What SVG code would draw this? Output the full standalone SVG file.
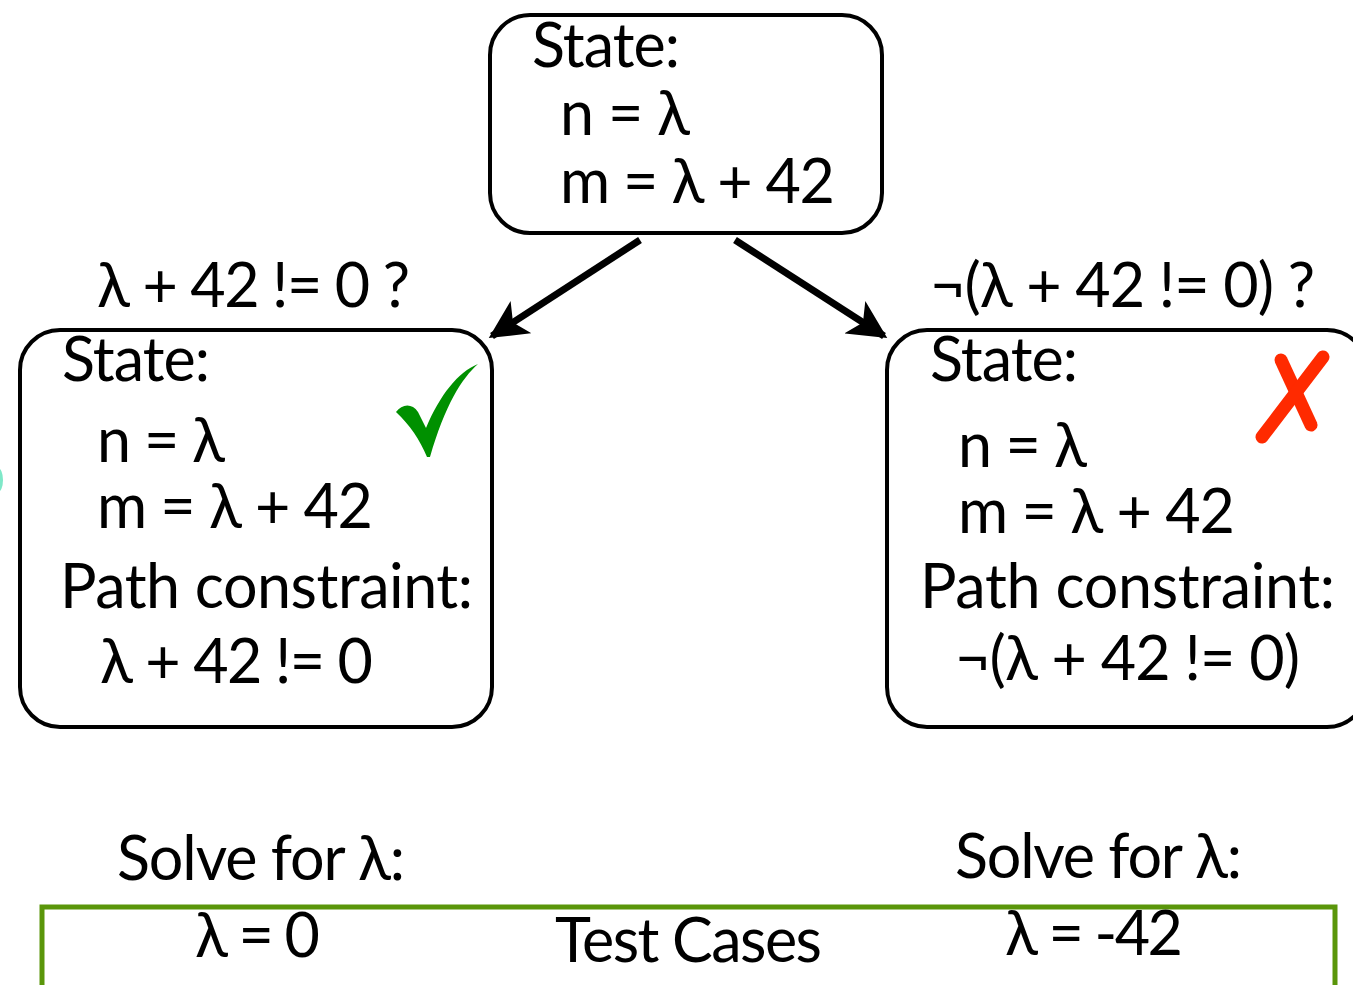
<svg xmlns="http://www.w3.org/2000/svg" width="1353" height="985" viewBox="0 0 1353 985">
  <style>
    .box { fill: #ffffff; stroke: #000000; stroke-width: 4; }
    .t { font-family: Lato, "Open Sans", "Liberation Sans", sans-serif; font-size: 61px; fill: #000000; }
    .edge { stroke: #000000; stroke-width: 7; fill: none; }
  </style>
  <defs>
    <marker id="arrow" viewBox="0 0 10 10" refX="9" refY="5" markerWidth="5.5" markerHeight="5.5" markerUnits="strokeWidth" orient="auto">
      <path d="M0,0 L10,5 L0,10 L2.5,5 Z" fill="#000000"/>
    </marker>
  </defs>
  <rect width="1353" height="985" fill="#ffffff"/>

  <!-- stray mark at left edge -->
  <ellipse cx="-2" cy="480" rx="5" ry="12" fill="#7fe8c8"/>

  <!-- connectors -->
  <g id="connectors">
    <line class="edge" x1="640" y1="240" x2="492" y2="336" marker-end="url(#arrow)"/>
    <line class="edge" x1="735" y1="240" x2="884" y2="336" marker-end="url(#arrow)"/>
    <text class="t" x="97" y="307" textLength="313" lengthAdjust="spacing">λ + 42 != 0 ?</text>
    <text class="t" x="930" y="307" textLength="385" lengthAdjust="spacing">¬(λ + 42 != 0) ?</text>
  </g>

  <!-- initial state -->
  <g id="root">
    <rect class="box" x="490" y="15" width="392" height="218" rx="40"/>
    <text class="t" x="532" y="67" textLength="148" lengthAdjust="spacing">State:</text>
    <text class="t" x="560" y="135" textLength="130" lengthAdjust="spacing">n = λ</text>
    <text class="t" x="560" y="203" textLength="275" lengthAdjust="spacing">m = λ + 42</text>
  </g>

  <!-- true branch -->
  <g id="true-branch">
    <rect class="box" x="20" y="330" width="472" height="397" rx="40"/>
    <text class="t" x="62" y="381" textLength="148" lengthAdjust="spacing">State:</text>
    <text class="t" x="97" y="462" textLength="128" lengthAdjust="spacing">n = λ</text>
    <text class="t" x="97" y="528" textLength="276" lengthAdjust="spacing">m = λ + 42</text>
    <text class="t" x="60" y="608" textLength="413" lengthAdjust="spacing">Path constraint:</text>
    <text class="t" x="100" y="683" textLength="273" lengthAdjust="spacing">λ + 42 != 0</text>
    <path d="M396,412 C402,404 412,403 418,412 L426,428 C440,395 458,372 478,364 C462,378 445,405 430,457 L427,457 C420,440 410,425 396,412 Z" fill="#009000"/>
  </g>

  <!-- false branch -->
  <g id="false-branch">
    <rect class="box" x="887" y="330" width="480" height="397" rx="40"/>
    <text class="t" x="930" y="381" textLength="148" lengthAdjust="spacing">State:</text>
    <text class="t" x="958" y="467" textLength="129" lengthAdjust="spacing">n = λ</text>
    <text class="t" x="958" y="533" textLength="277" lengthAdjust="spacing">m = λ + 42</text>
    <text class="t" x="920" y="608" textLength="415" lengthAdjust="spacing">Path constraint:</text>
    <text class="t" x="955" y="680" textLength="345" lengthAdjust="spacing">¬(λ + 42 != 0)</text>
    <g stroke="#ff2a00" stroke-width="13" stroke-linecap="round">
      <line x1="1281" y1="360" x2="1311" y2="425"/>
      <line x1="1323" y1="357" x2="1262" y2="437"/>
    </g>
  </g>

  <!-- solver results -->
  <g id="test-cases">
    <text class="t" x="117" y="880" textLength="288" lengthAdjust="spacing">Solve for λ:</text>
    <text class="t" x="955" y="878" textLength="287" lengthAdjust="spacing">Solve for λ:</text>
    <rect x="42" y="907" width="1293" height="100" fill="none" stroke="#5a960a" stroke-width="5"/>
    <text class="t" x="195" y="957" textLength="125" lengthAdjust="spacing">λ = 0</text>
    <text class="t" x="555" y="962" textLength="267" lengthAdjust="spacing">Test Cases</text>
    <text class="t" x="1005" y="955" textLength="178" lengthAdjust="spacing">λ = -42</text>
  </g>
</svg>
